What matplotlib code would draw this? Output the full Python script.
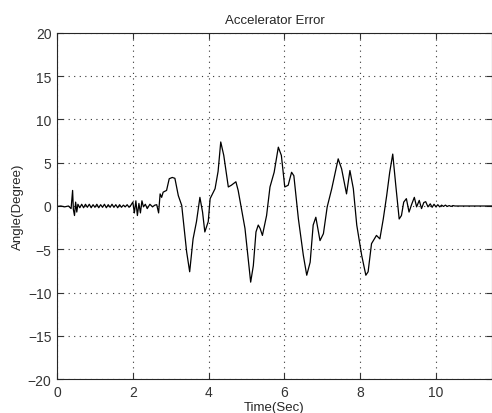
import matplotlib
matplotlib.use("Agg")
import matplotlib.pyplot as plt

title = "Accelerator Error"
xlabel = "Time(Sec)"
ylabel = "Angle(Degree)"
xticks = [0, 2, 4, 6, 8, 10]
yticks = [-20, -15, -10, -5, 0, 5, 10, 15, 20]

time = [0.00, 0.10, 0.20, 0.30, 0.37, 0.41, 0.43, 0.46, 0.49, 0.52, 0.55, 0.60, 0.65,
        0.70, 0.75, 0.80, 0.85, 0.90, 0.95, 1.00, 1.05, 1.10, 1.15, 1.20, 1.25,
        1.30, 1.35, 1.40, 1.45, 1.50, 1.55, 1.60, 1.65, 1.70, 1.75, 1.80, 1.85,
        1.90, 1.95, 2.00, 2.04, 2.08, 2.12, 2.16, 2.20, 2.24, 2.28, 2.33, 2.38,
        2.45, 2.52, 2.58, 2.63, 2.68, 2.72, 2.76, 2.80, 2.89, 2.96, 3.04, 3.11,
        3.20, 3.29, 3.42, 3.50, 3.59, 3.68, 3.77, 3.84, 3.90, 3.99, 4.04, 4.17,
        4.25, 4.32, 4.40, 4.52, 4.60, 4.72, 4.78, 4.96, 5.11, 5.18, 5.25, 5.31,
        5.36, 5.42, 5.53, 5.62, 5.73, 5.84, 5.92, 6.01, 6.10, 6.19, 6.25, 6.37,
        6.50, 6.59, 6.68, 6.76, 6.83, 6.94, 7.03, 7.13, 7.25, 7.30, 7.42, 7.51,
        7.64, 7.73, 7.82, 7.91, 8.04, 8.15, 8.21, 8.30, 8.43, 8.52, 8.61, 8.70,
        8.78, 8.86, 8.94, 9.03, 9.09, 9.15, 9.22, 9.29, 9.36, 9.43, 9.49, 9.56,
        9.62, 9.68, 9.73, 9.79, 9.85, 9.90, 9.95, 10.00, 10.05, 10.10, 10.15,
        10.20, 10.25, 10.30, 10.35, 10.40, 10.45, 10.50, 11.50]

angle = [-0.05, 0.0, -0.1, 0.0, -0.3, 1.8, -0.4, -1.1, 0.45, -0.7, 0.2, -0.2, 0.2,
         -0.2, 0.2, -0.15, 0.2, -0.2, 0.15, -0.15, 0.2, -0.2, 0.15, -0.15, 0.2,
         -0.2, 0.15, -0.15, 0.2, -0.15, 0.15, -0.2, 0.15, -0.15, 0.1, -0.1, 0.15,
         -0.15, 0.1, 0.45, -0.8, 0.6, -1.1, 0.3, -0.8, 0.6, -0.1, 0.2, -0.3,
         0.2, -0.1, 0.1, 0.15, -0.8, 1.4, 1.0, 1.6, 1.8, 3.15, 3.3, 3.2,
         1.2, 0.07, -5.3, -7.6, -3.8, -1.8, 1.0, -0.7, -3.0, -1.8, 0.85, 2.0,
         4.0, 7.4, 5.85, 2.2, 2.4, 2.8, 1.8, -2.6, -8.8, -6.9, -3.0, -2.2,
         -2.6, -3.4, -1.1, 2.2, 3.9, 6.8, 5.85, 2.2, 2.4, 3.9, 3.5, -1.5,
         -5.7, -8.0, -6.5, -2.2, -1.3, -4.0, -3.2, -0.1, 2.0, 3.0, 5.45, 4.3,
         1.4, 4.1, 2.0, -2.2, -5.7, -8.0, -7.6, -4.35, -3.4, -3.8, -1.5, 1.2,
         3.9, 6.0, 2.4, -1.5, -1.1, 0.45, 0.85, -0.7, 0.2, 1.0, -0.1, 0.65,
         -0.3, 0.4, 0.5, -0.1, 0.25, -0.15, 0.2, -0.1, 0.15, -0.1, 0.1,
         -0.05, 0.1, -0.05, 0.05, -0.05, 0.05, 0.0, 0.0]

plt.rcParams['font.family'] = ['Liberation Sans', 'DejaVu Sans']

fig = plt.figure(figsize=(4.92, 4.14), dpi=100)
ax = fig.add_axes([0.116, 0.082, 0.884, 0.836])
ax.plot(time, angle, color='black', linewidth=0.9)

ax.set_xlim(0, 11.48)
ax.set_ylim(-20, 20)
ax.set_xticks(xticks)
ax.set_yticks(yticks)
ax.tick_params(direction='in', length=4, width=0.8, labelsize=10,
               top=True, right=True, colors='#333333', pad=4)
ax.grid(True, linestyle=(0, (1, 4)), color='#333333', linewidth=0.8)
for s in ax.spines.values():
    s.set_color('#262626')
    s.set_linewidth(0.8)

ax.set_title(title, fontsize=9.5, color='#262626', pad=7)
ax.set_xlabel(xlabel, fontsize=9.5, color='#262626', labelpad=2)
ax.set_ylabel(ylabel, fontsize=9.5, color='#262626', labelpad=3)

fig.savefig('out.png', dpi=100)
